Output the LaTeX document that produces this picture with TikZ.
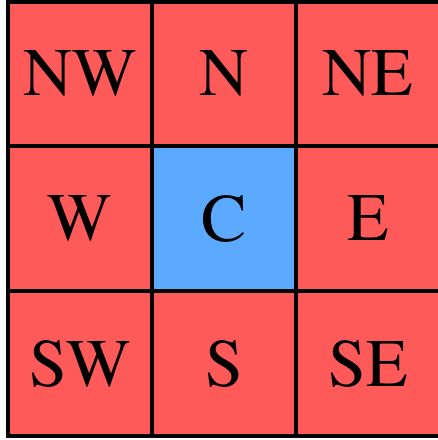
\documentclass[tikz,border=0pt]{standalone}
\usepackage[T1]{fontenc}
\renewcommand{\rmdefault}{ptm}
\definecolor{cellred}{RGB}{255,90,90}
\definecolor{cellblue}{RGB}{92,170,255}
\begin{document}
\begin{tikzpicture}[x=1pt,y=1pt,
  cell/.style={draw=black,line width=4.5pt,fill=cellred,minimum width=144pt,minimum height=144.8pt,
    inner sep=0pt,outer sep=0pt,font=\rmfamily\fontsize{68}{68}\selectfont},
  center/.style={cell,fill=cellblue}]
\useasboundingbox (0,0) rectangle (438,440);
\clip (0,0) rectangle (438,440);
\node[cell] (nw) at (80,366.1) {NW};
\node[cell] (n) at (224,366.1) {N};
\node[cell] (ne) at (368,366.1) {NE};
\node[cell] (w) at (80,221.35) {W};
\node[center] (c) at (224,221.35) {C};
\node[cell] (e) at (368,221.35) {E};
\node[cell] (sw) at (80,76.6) {SW};
\node[cell] (s) at (224,76.6) {S};
\node[cell] (se) at (368,76.6) {SE};
\end{tikzpicture}
\end{document}
